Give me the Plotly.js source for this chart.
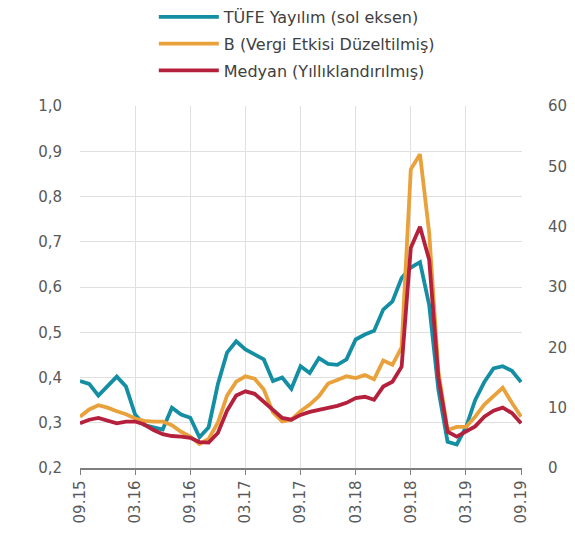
<!DOCTYPE html>
<html>
<head>
<meta charset="utf-8">
<script src="https://cdn.plot.ly/plotly-3.0.1.min.js"></script>
<style>html,body{margin:0;padding:0;background:#fff;}#chart{width:575px;height:533px;}</style>
</head>
<body>
<div id="chart"></div>
<script>
// Months 09.15 .. 09.19 (monthly)
const months = ["09.15","10.15","11.15","12.15","01.16","02.16","03.16","04.16","05.16","06.16","07.16","08.16",
  "09.16","10.16","11.16","12.16","01.17","02.17","03.17","04.17","05.17","06.17","07.17","08.17",
  "09.17","10.17","11.17","12.17","01.18","02.18","03.18","04.18","05.18","06.18","07.18","08.18",
  "09.18","10.18","11.18","12.18","01.19","02.19","03.19","04.19","05.19","06.19","07.19","08.19","09.19"];

const tickLabels = ["09.15","03.16","09.16","03.17","09.17","03.18","09.18","03.19","09.19"];

// TÜFE Yayılım (left axis)
const tufe = [0.392,0.386,0.360,0.380,0.402,0.380,0.318,0.295,0.290,0.285,0.333,0.318,
  0.311,0.268,0.290,0.385,0.455,0.480,0.462,0.452,0.440,0.392,0.400,0.375,
  0.425,0.410,0.443,0.430,0.428,0.440,0.484,0.495,0.503,0.550,0.568,0.620,
  0.643,0.655,0.560,0.373,0.258,0.252,0.290,0.350,0.390,0.420,0.425,0.415,0.390];

// B (Vergi Etkisi Düzeltilmiş) (right axis)
const bSeries = [8.5,9.7,10.4,10.0,9.4,8.9,8.2,7.8,7.7,7.7,7.1,6.0,
  5.2,4.0,4.8,7.5,12.0,14.3,15.2,14.8,13.0,9.2,7.7,8.0,
  9.4,10.5,11.9,14.0,14.6,15.2,14.9,15.4,14.7,17.8,17.1,20.0,
  49.5,52.0,39.0,16.0,6.3,6.8,6.8,8.5,10.5,12.0,13.3,10.8,8.5];

// Medyan (Yıllıklandırılmış) (right axis)
const medyan = [7.4,8.0,8.3,7.8,7.4,7.7,7.7,7.2,6.3,5.6,5.3,5.2,
  5.0,4.3,4.2,5.8,9.5,12.0,12.7,12.3,11.0,9.5,8.3,8.0,
  8.8,9.3,9.6,10.0,10.3,10.8,11.6,11.8,11.3,13.5,14.3,16.8,
  36.5,40.0,34.5,15.0,6.0,5.2,6.0,6.9,8.5,9.5,10.0,9.1,7.4];

const seriesNames = ["TÜFE Yayılım (sol eksen)","B (Vergi Etkisi Düzeltilmiş)","Medyan (Yıllıklandırılmış)"];
const colors = ["#138ea3","#e9a23b","#b5213c"];

const traces = [
  {x: months, y: tufe, name: seriesNames[0], legendgroup: "a", type: "scatter", mode: "lines", yaxis: "y",
   line: {color: colors[0], width: 3.8}},
  {x: months, y: bSeries, name: seriesNames[1], legendgroup: "b", type: "scatter", mode: "lines", yaxis: "y2",
   line: {color: colors[1], width: 3.8}},
  {x: months, y: medyan, name: seriesNames[2], legendgroup: "c", type: "scatter", mode: "lines", yaxis: "y2",
   line: {color: colors[2], width: 3.8}}
];

const tickFont = {family: "DejaVu Sans, sans-serif", size: 15, color: "#595959"};

const layout = {
  width: 575, height: 533,
  margin: {l: 80, r: 53, t: 106, b: 65, autoexpand: false},
  paper_bgcolor: "#ffffff", plot_bgcolor: "#ffffff",
  separators: ",.",
  font: {family: "DejaVu Sans, sans-serif", color: "#595959", size: 15},
  showlegend: true,
  legend: {x: 0.167, y: 1.293, xanchor: "left", yanchor: "top",
    orientation: "v", font: {family: "DejaVu Sans, sans-serif", size: 16, color: "#404040"},
    tracegroupgap: 3, itemwidth: 60, bgcolor: "rgba(0,0,0,0)"},
  xaxis: {type: "category", range: [0, 48.1], tickvals: tickLabels, ticktext: tickLabels,
    tickangle: -90, ticks: "outside", ticklen: 5, tickcolor: "#808080",
    showline: true, linecolor: "#7f7f7f", linewidth: 1.5,
    showgrid: true, gridcolor: "#e0e0e0", gridwidth: 1,
    tickfont: tickFont, zeroline: false, fixedrange: true},
  yaxis: {range: [0.2, 1.0], dtick: 0.1, tick0: 0.2, tickformat: ".1f",
    showgrid: true, gridcolor: "#e0e0e0", gridwidth: 1, zeroline: false,
    showline: false, ticks: "", ticklabelstandoff: 17, tickfont: tickFont},
  yaxis2: {range: [0, 60], dtick: 10, overlaying: "y", side: "right",
    showgrid: false, zeroline: false, showline: false, ticks: "",
    ticklabelstandoff: 25, tickfont: tickFont}
};

Plotly.newPlot("chart", traces, layout, {displayModeBar: false, staticPlot: true});
</script>
</body>
</html>
